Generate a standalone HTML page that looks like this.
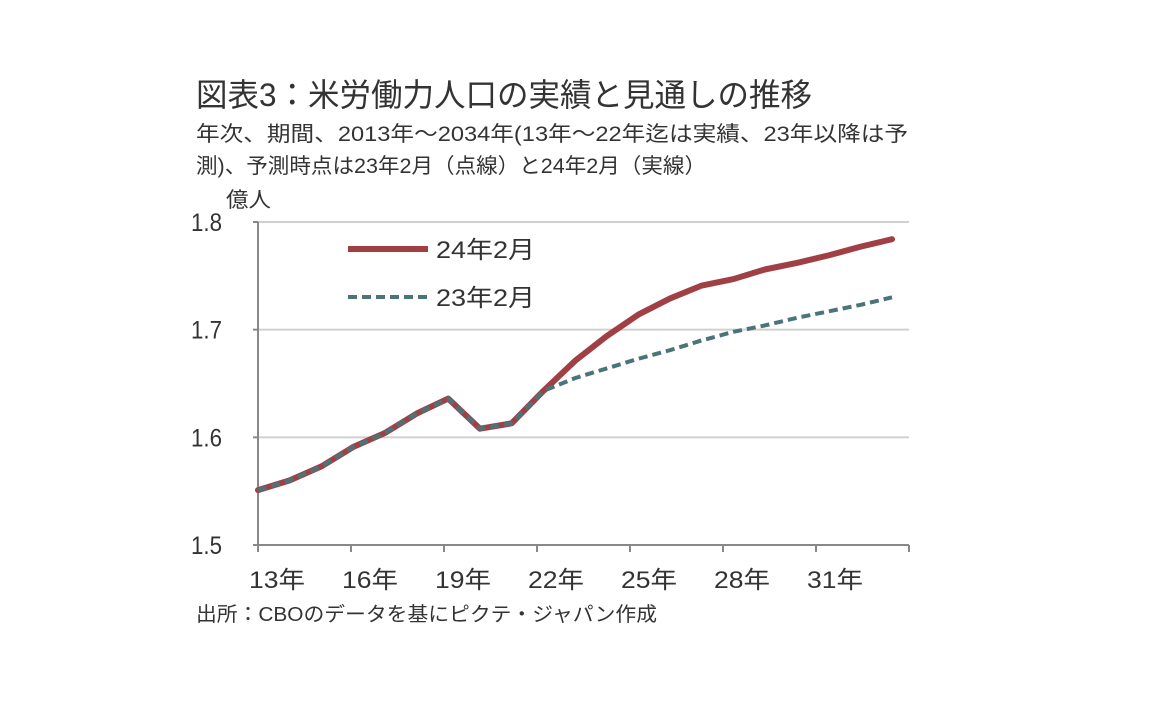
<!DOCTYPE html>
<html><head><meta charset="utf-8">
<style>
body{margin:0;background:#fff;}
svg{display:block;font-family:"Liberation Sans","Noto Sans CJK JP",sans-serif;}
</style></head>
<body>
<svg id="chart" width="1152" height="720" viewBox="0 0 1152 720">
<text x="196" y="106" font-size="32" fill="#333" textLength="616" lengthAdjust="spacingAndGlyphs">図表3：米労働力人口の実績と見通しの推移</text>
<text x="196" y="141" font-size="21" fill="#333" textLength="712" lengthAdjust="spacingAndGlyphs">年次、期間、2013年～2034年(13年～22年迄は実績、23年以降は予</text>
<text x="196" y="173" font-size="21" fill="#333" textLength="510" lengthAdjust="spacingAndGlyphs">測)、予測時点は23年2月（点線）と24年2月（実線）</text>
<text x="226" y="207" font-size="21" fill="#333" textLength="45" lengthAdjust="spacingAndGlyphs">億人</text>
<g id="grid"></g>
<g id="axes"></g>
<g id="series"></g>
<g>
<line x1="348" y1="249" x2="428" y2="249" stroke="#A04045" stroke-width="6"/>
<text x="436" y="258" font-size="24" fill="#333" textLength="99" lengthAdjust="spacingAndGlyphs">24年2月</text>
<line x1="348" y1="297" x2="428" y2="297" stroke="#4A7478" stroke-width="4" stroke-dasharray="9,5"/>
<text x="436" y="306" font-size="24" fill="#333" textLength="99" lengthAdjust="spacingAndGlyphs">23年2月</text>
</g>
<text x="196" y="621" font-size="20" fill="#333" textLength="461" lengthAdjust="spacingAndGlyphs">出所：CBOのデータを基にピクテ・ジャパン作成</text>
</svg>
<script>
const years=[2013,2014,2015,2016,2017,2018,2019,2020,2021,2022,2023,2024,2025,2026,2027,2028,2029,2030,2031,2032,2033];
const actual24=[1.551,1.560,1.573,1.591,1.604,1.622,1.636,1.608,1.613,1.643,1.671,1.694,1.714,1.729,1.741,1.747,1.756,1.762,1.769,1.777,1.784];
const forecast23=[1.551,1.560,1.573,1.591,1.604,1.622,1.636,1.608,1.613,1.643,1.655,1.664,1.673,1.681,1.690,1.698,1.704,1.711,1.717,1.723,1.730];
const yTicks=[1.5,1.6,1.7,1.8];
const yTickLabels=["1.5","1.6","1.7","1.8"];
const xTickLabels=["13年","16年","19年","22年","25年","28年","31年"];

const NS="http://www.w3.org/2000/svg";
const X0=258,X1=909,Y0=545,Y1=222;
const xs=i=>X0+i*31.7;
const ys=v=>Y0-(v-1.5)/(0.3)*(Y0-Y1);
const tickX=i=>X0+i*(X1-X0)/7;
function mk(t,a,p){const e=document.createElementNS(NS,t);for(const k in a)e.setAttribute(k,a[k]);p.appendChild(e);return e;}
const grid=document.getElementById('grid'),axes=document.getElementById('axes'),series=document.getElementById('series');
yTicks.forEach((v,i)=>{
  if(i>0){const g=mk('line',{x1:X0,x2:X1,y1:ys(v),y2:ys(v),stroke:'#d0d0d0','stroke-width':2},grid);
  
  }
  const tk=mk('line',{x1:X0-5,x2:X0,y1:ys(v),y2:ys(v),stroke:'#888','stroke-width':2},axes);
  
  
  const t=mk('text',{x:222,y:ys(v)+9,'font-size':25,fill:'#333','text-anchor':'end',textLength:31,lengthAdjust:'spacingAndGlyphs'},axes);
  t.textContent=yTickLabels[i];
  
  
});
let ya=mk('line',{x1:X0,x2:X0,y1:Y1,y2:Y0,stroke:'#888','stroke-width':2},axes);


let xa=mk('line',{x1:X0,x2:X1,y1:Y0,y2:Y0,stroke:'#888','stroke-width':2},axes);


for(let i=0;i<=7;i++){
  const tk=mk('line',{x1:tickX(i),x2:tickX(i),y1:Y0,y2:Y0+7,stroke:'#888','stroke-width':2},axes);
  
  
}
xTickLabels.forEach((l,i)=>{
  const t=mk('text',{x:tickX(i)+19,y:588,'font-size':24,fill:'#333','text-anchor':'middle',textLength:56,lengthAdjust:'spacingAndGlyphs'},axes);
  t.textContent=l;
  
  
});
function pts(arr){return arr.map((v,i)=>xs(i)+','+ys(v)).join(' ');}
const r=mk('polyline',{points:pts(actual24),fill:'none',stroke:'#A04045','stroke-width':6,'stroke-linejoin':'round','stroke-linecap':'round'},series);


const b=mk('polyline',{points:pts(forecast23),fill:'none',stroke:'#4A7478','stroke-width':4,'stroke-dasharray':'9,5','stroke-linejoin':'round'},series);


</script>
</body></html>
